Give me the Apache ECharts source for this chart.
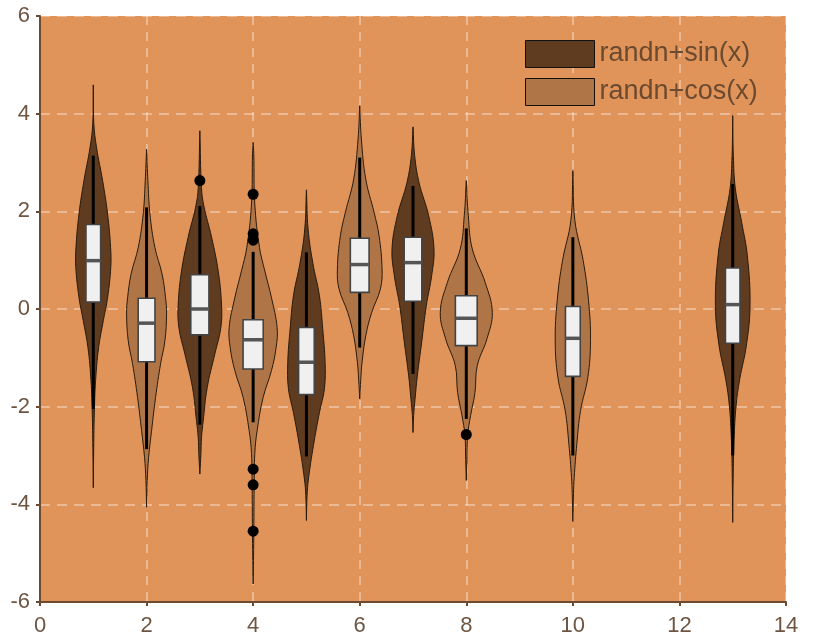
<!DOCTYPE html>
<html>
<head>
<meta charset="utf-8">
<script src="https://cdn.jsdelivr.net/npm/echarts@6/dist/echarts.min.js"></script>
<style>html,body{margin:0;padding:0;background:#fff}#c{width:816px;height:644px}</style>
</head>
<body>
<div id="c"></div>
<script>
// ---- data ----
const seriesNames = ['randn+sin(x)', 'randn+cos(x)'];
const positions = [1, 2, 3, 4, 5, 6, 7, 8, 10, 13];
const groupOf   = [0, 1, 0, 1, 0, 1, 0, 1, 1, 0];
const whiskerLow  = [-2.05, -2.87, -2.37, -2.32, -3.02, -0.79, -1.33, -2.25, -3.00, -3.00];
const q1          = [ 0.14, -1.08, -0.53, -1.23, -1.75,  0.34,  0.16, -0.75, -1.38, -0.70];
const medians     = [ 0.99, -0.29,  0.00, -0.63, -1.09,  0.91,  0.95, -0.19, -0.60,  0.09];
const q3          = [ 1.73,  0.22,  0.70, -0.22, -0.38,  1.45,  1.47,  0.27,  0.05,  0.84];
const whiskerHigh = [ 3.14,  2.08,  2.11,  1.17,  1.16,  3.10,  2.52,  1.65,  1.47,  2.56];
const outliers = [
  [], [], [2.63], [2.35, 1.54, 1.41, -3.28, -3.60, -4.55], [], [], [], [-2.57], [], []
];
// density outline: [y, half width in x units], from top tip to bottom tip
const profiles = [
  [[4.59,0],[3.8,0.01],[3.3,0.062],[2.63,0.175],[1.95,0.268],[1.26,0.325],[0.85,0.328],[0.23,0.268],[-0.24,0.188],[-0.79,0.1],[-1.47,0.043],[-2.15,0.019],[-2.83,0.008],[-3.66,0]],
  [[3.27,0],[2.63,0.025],[1.95,0.063],[1.26,0.156],[0.72,0.29],[0.23,0.356],[-0.1,0.375],[-0.65,0.344],[-1.12,0.263],[-1.81,0.169],[-2.49,0.094],[-3.04,0.038],[-3.51,0.012],[-4.06,0]],
  [[3.65,0],[2.49,0.03],[2.11,0.075],[1.47,0.22],[0.78,0.344],[0.1,0.406],[-0.38,0.394],[-0.92,0.281],[-1.61,0.138],[-2.29,0.063],[-2.63,0.031],[-2.96,0.02],[-3.38,0]],
  [[3.41,0],[3.18,0.012],[2.15,0.031],[1.26,0.119],[0.78,0.219],[0.23,0.344],[-0.38,0.45],[-0.79,0.431],[-1.26,0.344],[-1.81,0.188],[-2.49,0.075],[-2.96,0.031],[-3.65,0.019],[-4.67,0.012],[-5.63,0]],
  [[2.44,0],[1.64,0.031],[0.95,0.119],[0.27,0.244],[-0.41,0.306],[-1.09,0.35],[-1.63,0.338],[-2.12,0.244],[-2.8,0.131],[-3.48,0.038],[-3.82,0.012],[-4.33,0]],
  [[4.16,0],[3.48,0.031],[2.66,0.113],[1.98,0.269],[1.5,0.363],[0.82,0.419],[0.41,0.388],[-0.07,0.225],[-0.55,0.113],[-1.09,0.044],[-1.44,0.02],[-1.84,0]],
  [[3.73,0],[3.14,0.031],[2.59,0.113],[1.91,0.294],[1.23,0.394],[0.68,0.35],[0.07,0.25],[-0.68,0.163],[-1.37,0.081],[-1.85,0.038],[-2.18,0.012],[-2.53,0]],
  [[2.63,0],[1.91,0.038],[1.23,0.113],[0.54,0.356],[-0.07,0.488],[-0.61,0.388],[-1.16,0.206],[-1.71,0.163],[-2.18,0.081],[-2.59,0.025],[-3.08,0.012],[-3.51,0]],
  [[2.83,0],[1.81,0.038],[0.99,0.194],[0.17,0.294],[-0.65,0.331],[-1.40,0.281],[-2.08,0.144],[-2.76,0.075],[-3.45,0.025],[-3.78,0.012],[-4.35,0]],
  [[3.96,0],[3.14,0.012],[2.46,0.05],[1.77,0.169],[1.09,0.275],[0.07,0.325],[-0.75,0.256],[-1.44,0.131],[-1.98,0.063],[-2.67,0.025],[-3.34,0.01],[-4.37,0]]
];
const xTicks = [0, 2, 4, 6, 8, 10, 12, 14];
const yTicks = [-6, -4, -2, 0, 2, 4, 6];

// ---- styles ----
const fills = ['#5f3b20', '#b07547'];
const edge = '#2a1a0c';
const axisColor = '#6b4a30';
const labelColor = '#6e5542';
const FONT = '"Liberation Sans", Arial, sans-serif';

function renderViolin(params, api) {
  const i = api.value(2);
  const x = positions[i];
  const prof = profiles[i];
  const maxHw = Math.max.apply(null, prof.map(p => p[1]));
  const right = prof.map(p => api.coord([x + p[1], p[0]]));
  const left = prof.slice().reverse().map(p => api.coord([x - p[1], p[0]]));
  const pts = right.concat(left);
  const c = (yy) => api.coord([x, yy]);
  const boxHw = maxHw * 0.42;
  const pl = api.coord([x - boxHw, 0])[0];
  const pr = api.coord([x + boxHw, 0])[0];
  const top = c(q3[i])[1], bot = c(q1[i])[1];
  const children = [
    { type: 'polygon', shape: { points: pts, smooth: 0.4 },
      style: { fill: fills[groupOf[i]], stroke: edge, lineWidth: 1 } },
    { type: 'line', shape: { x1: c(0)[0], y1: c(whiskerLow[i])[1], x2: c(0)[0], y2: c(whiskerHigh[i])[1] },
      style: { stroke: '#000', lineWidth: 3 } },
    { type: 'rect', shape: { x: pl, y: top, width: pr - pl, height: bot - top },
      style: { fill: '#f0f0f0', stroke: '#444', lineWidth: 1.6 } },
    { type: 'line', shape: { x1: pl, y1: c(medians[i])[1], x2: pr, y2: c(medians[i])[1] },
      style: { stroke: '#555', lineWidth: 3.5 } }
  ];
  outliers[i].forEach(v => {
    const p = c(v);
    children.push({ type: 'circle', shape: { cx: p[0], cy: p[1], r: 5.5 }, style: { fill: '#000' } });
  });
  return { type: 'group', children };
}

function seriesFor(g) {
  const data = [];
  positions.forEach((p, i) => { if (groupOf[i] === g) data.push([p, medians[i], i]); });
  return {
    name: seriesNames[g], type: 'custom', renderItem: renderViolin,
    data, encode: { x: 0, y: 1 }, clip: false,
    itemStyle: { color: fills[g], borderColor: '#111', borderWidth: 1 }
  };
}

const chart = echarts.init(document.getElementById('c'), null, { renderer: 'canvas' });
chart.setOption({
  animation: false,
  backgroundColor: '#ffffff',
  textStyle: { fontFamily: FONT },
  grid: { left: 40, right: 30, top: 16, bottom: 42, show: true, backgroundColor: '#E0945A', borderWidth: 0 },
  legend: {
    orient: 'vertical', left: 525, top: 40, itemWidth: 69, itemHeight: 27, itemGap: 10, padding: 0,
    icon: 'rect',
    itemStyle: { borderColor: '#111', borderWidth: 1 },
    textStyle: { fontSize: 27, color: axisColor, fontFamily: FONT, padding: [5, 0, 0, 0] },
    data: seriesNames
  },
  xAxis: {
    type: 'value', min: xTicks[0], max: xTicks[xTicks.length - 1], interval: 2,
    axisLine: { show: true, onZero: false, lineStyle: { color: axisColor, width: 2 } },
    axisTick: { show: true, length: 4, lineStyle: { color: axisColor, width: 2 } },
    axisLabel: { color: labelColor, fontSize: 22, margin: 13, fontFamily: FONT },
    splitLine: { show: true, showMinLine: false, lineStyle: { color: 'rgba(255,255,255,0.35)', width: 2, type: [9, 7] } }
  },
  yAxis: {
    type: 'value', min: yTicks[0], max: yTicks[yTicks.length - 1], interval: 2,
    axisLine: { show: true, onZero: false, lineStyle: { color: axisColor, width: 2 } },
    axisTick: { show: true, length: 4, lineStyle: { color: axisColor, width: 2 } },
    axisLabel: { color: labelColor, fontSize: 22, margin: 10, fontFamily: FONT },
    splitLine: { show: true, showMinLine: false, lineStyle: { color: 'rgba(255,255,255,0.35)', width: 2, type: [10, 7] } }
  },
  series: [seriesFor(0), seriesFor(1)]
});
</script>
</body>
</html>
